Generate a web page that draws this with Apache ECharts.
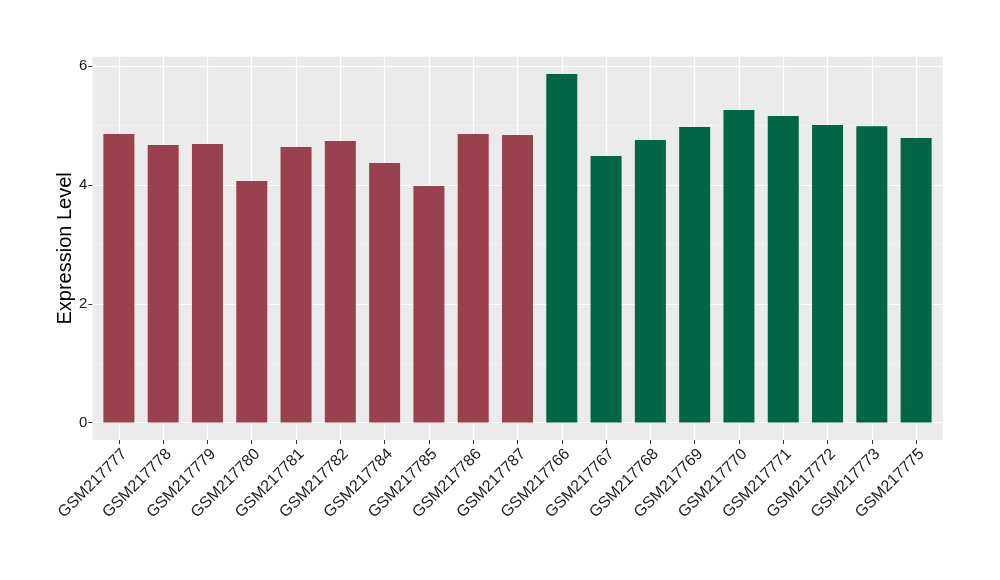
<!DOCTYPE html>
<html>
<head>
<meta charset="utf-8">
<script src="https://cdn.jsdelivr.net/npm/echarts@6/dist/echarts.min.js"></script>
<style>
html,body{margin:0;padding:0;background:#fff;}
#chart{width:1000px;height:580px;}
</style>
</head>
<body>
<div id="chart"></div>
<script>
const categories = ['GSM217777','GSM217778','GSM217779','GSM217780','GSM217781','GSM217782','GSM217784','GSM217785','GSM217786','GSM217787','GSM217766','GSM217767','GSM217768','GSM217769','GSM217770','GSM217771','GSM217772','GSM217773','GSM217775'];
const values = [4.857, 4.672, 4.689, 4.067, 4.639, 4.739, 4.370, 3.983, 4.857, 4.840, 5.866, 4.487, 4.756, 4.975, 5.260, 5.160, 5.008, 4.990, 4.790];
const groups = [0,0,0,0,0,0,0,0,0,0,1,1,1,1,1,1,1,1,1];
const yTicks = [0, 2, 4, 6];
const yMinor = [1, 3, 5];
const groupColors = ['#9A4150', '#006645'];

const yMax = Math.max(...values);
const pad = yMax * 0.05;
const xIdx = categories.map((c, i) => i);

const chart = echarts.init(document.getElementById('chart'), null, {renderer: 'canvas'});
const font = 'Liberation Sans, Arial, Helvetica, sans-serif';
chart.setOption({
  animation: false,
  backgroundColor: '#ffffff',
  grid: {
    left: 92.3, top: 56.7, width: 850.4, height: 383.3,
    show: true, backgroundColor: '#EBEBEB', borderWidth: 0
  },
  xAxis: {
    type: 'value',
    min: -0.6,
    max: categories.length - 1 + 0.6,
    axisLine: {show: false, onZero: false},
    axisTick: {show: true, customValues: xIdx, length: 4, lineStyle: {color: '#333333', width: 1}},
    axisLabel: {
      customValues: xIdx,
      formatter: (v) => categories[Math.round(v)],
      rotate: 45, fontSize: 16, color: '#1a1a1a', fontFamily: font, margin: 6,
      verticalAlign: 'top'
    },
    splitLine: {show: true, lineStyle: {color: '#ffffff', width: 1.2}},
    minorSplitLine: {show: false}
  },
  yAxis: [{
    type: 'value',
    min: -pad,
    max: yMax + pad,
    name: 'Expression Level',
    nameLocation: 'middle',
    nameGap: 17,
    nameMoveOverlap: false,
    nameTextStyle: {fontSize: 20, color: '#000000', fontFamily: font},
    axisLine: {show: false, onZero: false},
    axisTick: {show: true, customValues: yTicks, length: 4, lineStyle: {color: '#333333', width: 1}},
    axisLabel: {customValues: yTicks, fontSize: 15, color: '#1a1a1a', fontFamily: font, margin: 5},
    splitLine: {show: true, lineStyle: {color: '#ffffff', width: 1.2}}
  }, {
    type: 'value',
    min: -pad,
    max: yMax + pad,
    position: 'left',
    axisLine: {show: false, onZero: false},
    axisTick: {show: false, customValues: yMinor},
    axisLabel: {show: false, customValues: yMinor},
    splitLine: {show: true, lineStyle: {color: '#F5F5F5', width: 0.8}}
  }],
  series: [{
    type: 'bar',
    barWidth: 31,
    yAxisIndex: 0,
    data: values.map((v, i) => ({value: [i, v], itemStyle: {color: groupColors[groups[i]]}})),
    z: 3
  }]
});
</script>
</body>
</html>
